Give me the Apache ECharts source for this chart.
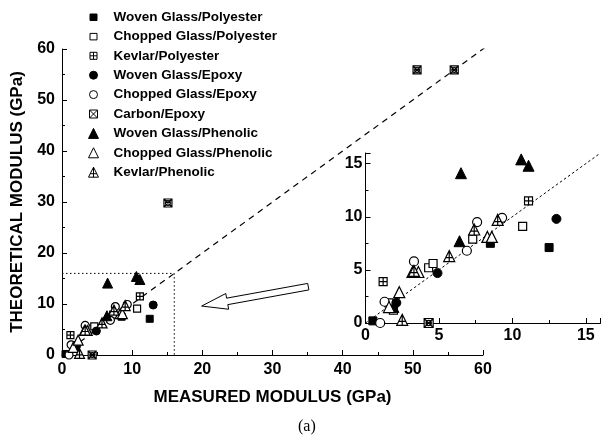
<!DOCTYPE html>
<html><head><meta charset="utf-8">
<script src="https://cdn.jsdelivr.net/npm/echarts@6/dist/echarts.min.js"></script>
<style>html,body{margin:0;padding:0;background:#fff}#c{width:610px;height:440px}</style>
</head><body><div id="c"></div>
<script>
// [measured, theoretical] modulus pairs in GPa
const wovenGlassPolyester   = [[0.5,0.2],[8.5,7.5],[12.5,7.1]];
const choppedGlassPolyester = [[1.6,1.9],[1.9,1.2],[4.3,5.2],[4.6,5.6],[7.3,7.9],[10.7,9.1]];
const kevlarPolyester       = [[1.2,3.9],[11.1,11.5]];
const wovenGlassEpoxy       = [[2.1,1.9],[4.9,4.7],[13.0,9.8]];
const choppedGlassEpoxy     = [[1.0,0.0],[1.3,2.0],[3.3,5.8],[6.9,6.8],[7.6,9.5],[9.3,9.9]];
const carbonEpoxy           = [[4.3,0.0],[15.1,29.8],[50.6,55.9],[55.9,55.9]];
const wovenGlassPhenolic    = [[1.9,1.5],[6.4,7.7],[6.5,14.1],[10.6,15.4],[11.1,14.8]];
const choppedGlassPhenolic  = [[1.6,1.5],[2.3,2.9],[3.2,4.8],[3.6,4.8],[8.3,8.1],[8.6,8.1]];
const kevlarPhenolic        = [[2.5,0.3],[3.3,4.9],[5.7,6.3],[7.4,8.8],[9.0,9.7]];

const insetRange = 16;

const sqPlus = 'path://M0,0L10,0L10,10L0,10Z M5,0L5,10 M0,5L10,5';
const sqCross = 'path://M0,0L10,0L10,10L0,10Z M0,0L10,10 M10,0L0,10 M2,5A3,3 0 1,0 8,5A3,3 0 1,0 2,5Z';
const triPlus = 'path://M5,0L10,10L0,10Z M5,0L5,10 M1.5,6.5L8.5,6.5';
// legend icons: the leading moves pin a 10x10 box so smaller shapes keep their size
const icSquare = 'path://M0,0M10,10M1.5,2L8.5,2L8.5,8.5L1.5,8.5Z';
const icSqPlus = 'path://M0,0M10,10M1.5,1.5L8.5,1.5L8.5,8.5L1.5,8.5Z M5,1.5L5,8.5 M1.5,5L8.5,5';
const icCircle = 'path://M0,0M10,10M1,5A4,4 0 1,0 9,5A4,4 0 1,0 1,5Z';
const icCross = 'path://M0,0M10,10M1,1L9,1L9,9L1,9Z M1,1L9,9 M9,1L1,9';

const groups = [
  {name:'Woven Glass/Polyester',   data:wovenGlassPolyester,   symbol:'rect',     icon:icSquare, fill:true,  size:7},
  {name:'Chopped Glass/Polyester', data:choppedGlassPolyester, symbol:'rect',     icon:icSquare, fill:false, size:7},
  {name:'Kevlar/Polyester',        data:kevlarPolyester,       symbol:sqPlus,     icon:icSqPlus, fill:false, size:7},
  {name:'Woven Glass/Epoxy',       data:wovenGlassEpoxy,       symbol:'circle',   icon:icCircle, fill:true,  size:8},
  {name:'Chopped Glass/Epoxy',     data:choppedGlassEpoxy,     symbol:'circle',   icon:icCircle, fill:false, size:8},
  {name:'Carbon/Epoxy',            data:carbonEpoxy,           symbol:sqCross,    icon:icCross,  fill:false, size:8},
  {name:'Woven Glass/Phenolic',    data:wovenGlassPhenolic,    symbol:'triangle', icon:'triangle', fill:true,  size:10},
  {name:'Chopped Glass/Phenolic',  data:choppedGlassPhenolic,  symbol:'triangle', icon:'triangle', fill:false, size:10},
  {name:'Kevlar/Phenolic',         data:kevlarPhenolic,        symbol:triPlus,    icon:triPlus,  fill:false, size:10}
];

const FONT = 'Liberation Sans, Arial, sans-serif';
const labelStyle = {color:'#000', fontFamily:FONT, fontWeight:'bold', fontSize:16};

function axis(grid, max, interval, name, extra) {
  return Object.assign({
    type:'value', gridIndex:grid, min:0, max:max, interval:interval,
    axisLine:{show:true, onZero:false, lineStyle:{color:'#000', width:1}},
    axisTick:{show:true, inside:true, length:5, lineStyle:{color:'#000'}},
    minorTick:{show:true, splitNumber:2, length:3, lineStyle:{color:'#000'}},
    splitLine:{show:false},
    axisLabel:Object.assign({margin:7, showMaxLabel:true}, labelStyle),
    name:name, nameLocation:'middle',
    nameTextStyle:{color:'#000', fontFamily:FONT, fontWeight:'bold', fontSize:17}
  }, extra || {});
}

const series = [];
groups.forEach(g => {
  const style = g.fill ? {color:'#000', borderColor:'#000', borderWidth:1, opacity:1}
                       : {color:'#fff', borderColor:'#000', borderWidth:1.2, opacity:1};
  series.push({type:'scatter', name:g.name, xAxisIndex:0, yAxisIndex:0, data:g.data,
    symbol:g.symbol, symbolSize:g.size, itemStyle:style, emphasis:{disabled:true}, z:5});
  series.push({type:'scatter', name:g.name, xAxisIndex:1, yAxisIndex:1,
    data:g.data.filter(p => p[0] <= insetRange && p[1] <= insetRange),
    symbol:g.symbol, symbolSize:g.size + 1, itemStyle:style, emphasis:{disabled:true}, z:5});
});
// parity line and zoom-window outline on the main plot
series.push({type:'line', xAxisIndex:0, yAxisIndex:0, data:[[0,0],[60.5,60.5]], symbol:'none', silent:true,
  lineStyle:{color:'#000', width:1.2, type:[6,5]}, z:2});
series.push({type:'line', xAxisIndex:0, yAxisIndex:0, data:[[0,insetRange],[insetRange,insetRange],[insetRange,0]],
  symbol:'none', silent:true, lineStyle:{color:'#000', width:1, type:[1.5,2.5]}, z:2});
// parity line on the enlarged view
series.push({type:'line', xAxisIndex:1, yAxisIndex:1, data:[[0,0],[insetRange,insetRange]], symbol:'none', silent:true,
  lineStyle:{color:'#000', width:1, type:[2.5,2.5]}, z:2});

const chart = echarts.init(document.getElementById('c'), null, {renderer:'canvas'});
chart.setOption({
  animation:false,
  backgroundColor:'#fff',
  grid:[
    {left:62, top:49, width:421, height:306},
    {left:365.5, top:153, width:235, height:170}
  ],
  xAxis:[
    axis(0, 60, 10, 'MEASURED MODULUS (GPa)', {nameGap:34}),
    axis(1, insetRange, 5, '', {axisLabel:Object.assign({margin:5, showMaxLabel:false}, labelStyle)})
  ],
  yAxis:[
    axis(0, 60, 10, 'THEORETICAL MODULUS (GPa)', {nameGap:34}),
    axis(1, insetRange, 5, '', {axisLabel:Object.assign({margin:3, showMaxLabel:false}, labelStyle)})
  ],
  legend:{
    orient:'vertical', left:83, top:5, itemWidth:10, itemHeight:10, itemGap:5.4,
    data:groups.map(g => ({name:g.name, icon:g.icon})), selectedMode:false,
    itemStyle:{borderWidth:1},
    textStyle:{color:'#000', fontFamily:FONT, fontWeight:'bold', fontSize:13.5, lineHeight:14, padding:[0,0,0,10]}
  },
  series:series
});

// hollow arrow pointing from the enlarged view back to the zoom window
const arrowTail = [35.1, 13.4];
const arrowTip = [19.9, 9.6];
const a = chart.convertToPixel({gridIndex:0}, arrowTail);
const b = chart.convertToPixel({gridIndex:0}, arrowTip);
const dx = b[0]-a[0], dy = b[1]-a[1], L = Math.hypot(dx,dy);
const ux = dx/L, uy = dy/L, nx = -uy, ny = ux;
const hw = 3.3, hh = 8, hl = 26;
const neck = [b[0]-ux*hl, b[1]-uy*hl];
const pts = [
  [a[0]+nx*hw, a[1]+ny*hw], [neck[0]+nx*hw, neck[1]+ny*hw], [neck[0]+nx*hh, neck[1]+ny*hh],
  b, [neck[0]-nx*hh, neck[1]-ny*hh], [neck[0]-nx*hw, neck[1]-ny*hw], [a[0]-nx*hw, a[1]-ny*hw]
];
chart.setOption({graphic:[
  {type:'polygon', shape:{points:pts}, style:{fill:'#fff', stroke:'#000', lineWidth:1}, z:10},
  {type:'text', left:298, top:419, style:{text:'(a)', fill:'#000', font:'16px "Liberation Serif", "Times New Roman", serif'}}
]});
</script></body></html>
